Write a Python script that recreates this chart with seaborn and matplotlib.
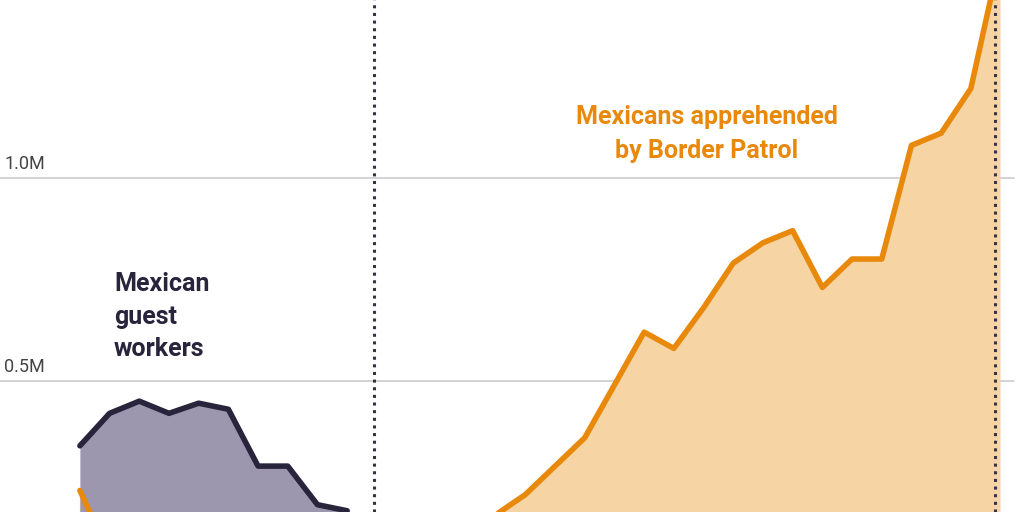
import numpy as np
import pandas as pd
import seaborn as sns
import matplotlib.pyplot as plt

# Bracero guest workers, millions
guest_years = [1955, 1956, 1957, 1958, 1959, 1960, 1961, 1962, 1963, 1964]
guest_vals = [0.34, 0.42, 0.45, 0.42, 0.445, 0.43, 0.29, 0.29, 0.195, 0.18]

# Mexicans apprehended by Border Patrol, millions
appr_years = list(range(1955, 1987))
appr_vals = [0.23, 0.07, 0.04, 0.03, 0.03, 0.03, 0.03, 0.03, 0.04, 0.04,
             0.05, 0.09, 0.11, 0.15, 0.17, 0.22, 0.29, 0.36, 0.49, 0.62,
             0.58, 0.68, 0.79, 0.84, 0.87, 0.73, 0.80, 0.80, 1.08, 1.11,
             1.22, 1.55]

program_end = 1964.9
peak_year = 1985.8
yticks = [0.5, 1.0]
ytick_labels = ["0.5M", "1.0M"]

orange, orange_fill = "#E8890C", "#F6D4A4"
navy, navy_fill = "#27243C", "#9C96AE"

sns.set_theme(style="white")
plt.rcParams['font.family'] = ['Roboto', 'DejaVu Sans']

fig = plt.figure(figsize=(10.24, 5.12), dpi=100)
ax = fig.add_axes([0, 0, 1, 1])

ymin = 0.0
ax.set_xlim(1952.31, 1986.79)
ax.set_ylim(0.177, 1.438)

for v, lab in zip(yticks, ytick_labels):
    ax.axhline(v, xmin=0, xmax=0.99, color="#cccccc", lw=1.2, zorder=0)
    ax.text(1952.45, v + 0.012, lab, fontsize=13, color="#444444", va="bottom")

appr = pd.DataFrame({"year": appr_years, "value": appr_vals})
guest = pd.DataFrame({"year": guest_years, "value": guest_vals})

ax.fill_between(appr["year"], ymin, appr["value"], color=orange_fill, lw=0, zorder=1)
ax.fill_between(guest["year"], ymin, guest["value"], color=navy_fill, lw=0, zorder=1)
sns.lineplot(data=appr, x="year", y="value", ax=ax, color=orange, lw=4, zorder=3)
sns.lineplot(data=guest, x="year", y="value", ax=ax, color=navy, lw=4, zorder=3)

for x in [program_end, peak_year]:
    ax.axvline(x, color="#333344", lw=2.2, ls=(0, (1, 1.5)), zorder=4)

ax.text(1956.15, 0.658, "Mexican\nguest\nworkers", fontsize=18, fontweight="bold",
        color=navy, ha="left", va="center", linespacing=1.45)
ax.text(1976.1, 1.108, "Mexicans apprehended\nby Border Patrol", fontsize=18,
        fontweight="bold", color=orange, ha="center", va="center", linespacing=1.5)

ax.set_axis_off()
fig.savefig("out.png", dpi=100)
